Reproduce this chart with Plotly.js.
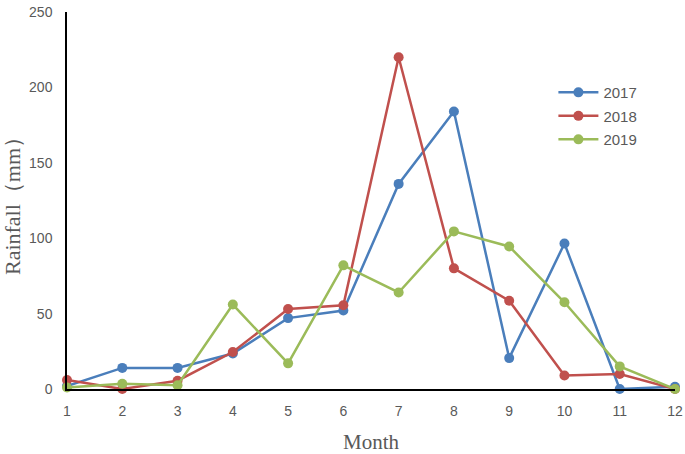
<!DOCTYPE html>
<html>
<head>
<meta charset="utf-8">
<script src="https://cdn.plot.ly/plotly-3.0.1.min.js"></script>
<style>html,body{margin:0;padding:0;background:#fff;}#chart{width:685px;height:454px;}</style>
</head>
<body>
<div id="chart"></div>
<script>
const months = [1,2,3,4,5,6,7,8,9,10,11,12];
const seriesNames = ["2017","2018","2019"];
const rain2017 = [2,14,14,23.5,47,52,136,184,20.5,96.5,0,1.5];
const rain2018 = [6,0,5.5,24.5,53,55.5,220,80,58.5,9,10,0];
const rain2019 = [1,3.5,2.5,56,17,82,64,104.5,94.5,57.5,15,0];
const colors = ["#4A7EBB","#C0504D","#9BBB59"];

const allSeries = [rain2017, rain2018, rain2019];
const traces = allSeries.map((vals, i) => ({
  x: months, y: vals, name: seriesNames[i], type: 'scatter', mode: 'lines+markers',
  legendgroup: 'g' + i,
  line: {color: colors[i], width: 2.5},
  marker: {color: colors[i], size: 10},
  cliponaxis: false
}));

const layout = {
  width: 685, height: 454,
  margin: {l: 67, r: 10, t: 12, b: 65},
  paper_bgcolor: '#fff', plot_bgcolor: '#fff',
  font: {family: 'Liberation Sans, Arial, sans-serif', color: '#595959', size: 13},
  showlegend: true,
  legend: {x: 0.8, y: 0.83, xanchor: 'left', yanchor: 'top', font: {size: 15, color: '#595959'}, bgcolor: 'rgba(0,0,0,0)', tracegroupgap: 1, itemwidth: 40},
  xaxis: {
    range: [1, 12], tickvals: months, ticktext: months.map(String),
    showgrid: false, zeroline: false, showline: true, linecolor: '#000', linewidth: 1.5,
    ticks: 'outside', ticklen: 8, tickcolor: 'rgba(0,0,0,0)',
    tickfont: {size: 14, color: '#595959'},
    title: {text: 'Month', font: {family: 'Liberation Serif, Times New Roman, serif', size: 21, color: '#595959'}, standoff: 18}
  },
  yaxis: {
    range: [0, 250], tickvals: [0,50,100,150,200,250],
    showgrid: false, zeroline: false, showline: true, linecolor: '#000', linewidth: 1.5,
    ticks: 'outside', ticklen: 10, tickcolor: 'rgba(0,0,0,0)',
    tickfont: {size: 14, color: '#595959'},
    title: {text: 'Rainfall（mm）', font: {family: 'Liberation Serif, Times New Roman, serif', size: 22, color: '#595959'}, standoff: 8}
  }
};
Plotly.newPlot('chart', traces, layout, {displayModeBar: false});
</script>
</body>
</html>
